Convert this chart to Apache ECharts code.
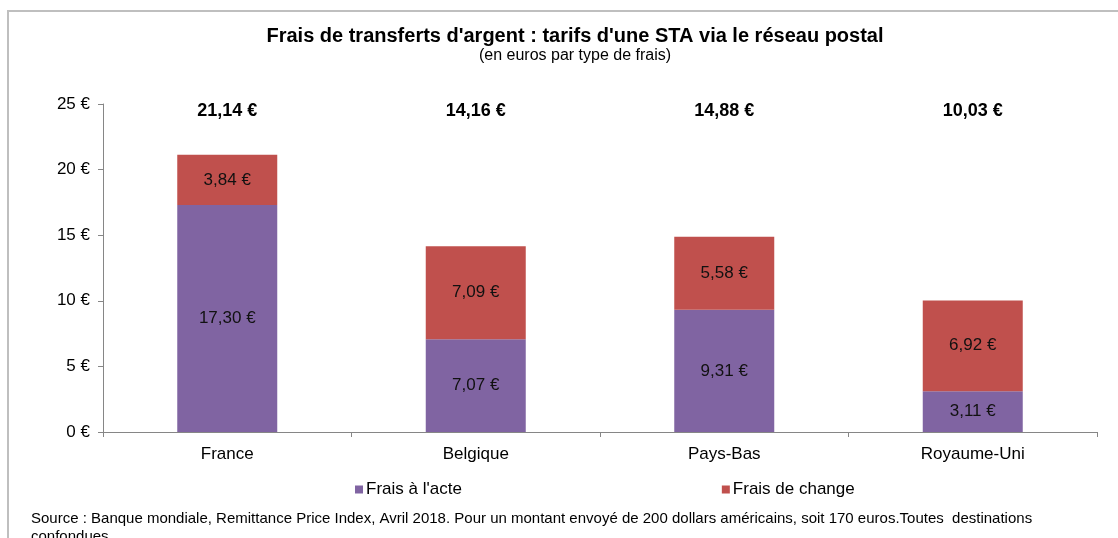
<!DOCTYPE html>
<html><head><meta charset="utf-8">
<script src="https://cdn.jsdelivr.net/npm/echarts@6/dist/echarts.min.js"></script>
<style>html,body{margin:0;padding:0;background:#fff}#c{width:1118px;height:538px}</style>
</head><body><div id="c"></div>
<script>
const categories = ['France', 'Belgique', 'Pays-Bas', 'Royaume-Uni'];
const fraisActe = [17.30, 7.07, 9.31, 3.11];
const fraisChange = [3.84, 7.09, 5.58, 6.92];
const totals = [21.14, 14.16, 14.88, 10.03];
const yTicks = [0, 5, 10, 15, 20, 25];

const fmt = v => v.toFixed(2).replace('.', ',') + ' €';
const font = 'Liberation Sans, Arial, sans-serif';

const chart = echarts.init(document.getElementById('c'), null, {renderer: 'canvas'});
chart.setOption({
  animation: false,
  textStyle: {fontFamily: font},
  title: {
    text: "Frais de transferts d'argent : tarifs d'une STA via le réseau postal",
    subtext: '(en euros par type de frais)',
    left: 570, textAlign: 'center', top: 21, itemGap: 2,
    textStyle: {fontFamily: font, fontSize: 20, fontWeight: 'bold', color: '#000'},
    subtextStyle: {fontFamily: font, fontSize: 16, color: '#000'}
  },
  legend: {
    data: ['Frais à l\'acte', 'Frais de change'],
    left: 350, top: 476, itemWidth: 8, itemHeight: 8, itemGap: 260,
    icon: 'rect',
    textStyle: {fontFamily: font, fontSize: 17, color: '#000', padding: [0, 0, 0, -2]}
  },
  grid: {left: 103, right: 21, top: 104, bottom: 106},
  xAxis: [{
    type: 'category', data: categories, position: 'bottom',
    axisLine: {lineStyle: {color: '#868686', width: 1}},
    axisTick: {show: true, length: 5, lineStyle: {color: '#868686'}},
    axisLabel: {fontFamily: font, fontSize: 17, color: '#000', margin: 14}
  }, {
    type: 'category', data: totals.map(fmt), position: 'top',
    axisLine: {show: false}, axisTick: {show: false},
    axisLabel: {inside: true, fontFamily: font, fontSize: 18, fontWeight: 'bold', color: '#000', margin: -2, verticalAlign: 'top'}
  }],
  yAxis: {
    type: 'value', min: 0, max: 25, interval: 5,
    axisLine: {show: true, lineStyle: {color: '#868686'}},
    axisTick: {show: true, length: 5, lineStyle: {color: '#868686'}},
    splitLine: {show: false},
    axisLabel: {fontFamily: font, fontSize: 17, color: '#000', margin: 13, formatter: v => v + ' €'}
  },
  series: [{
    name: 'Frais à l\'acte', type: 'bar', stack: 't', data: fraisActe, barWidth: 100,
    itemStyle: {color: '#8064A2'},
    label: {show: true, position: 'inside', fontFamily: font, fontSize: 17, color: '#111', formatter: p => fmt(p.value)}
  }, {
    name: 'Frais de change', type: 'bar', stack: 't', data: fraisChange, barWidth: 100,
    itemStyle: {color: '#C0504D'},
    label: {show: true, position: 'inside', fontFamily: font, fontSize: 17, color: '#111', formatter: p => fmt(p.value)}
  }],
  graphic: [{
    type: 'polyline', shape: {points: [[8, 538], [8, 11], [1118, 11]]},
    style: {stroke: '#BFBFBF', lineWidth: 2, fill: null}
  }, {
    type: 'text', left: 31, top: 510,
    style: {
      text: 'Source : Banque mondiale, Remittance Price Index, Avril 2018. Pour un montant envoyé de 200 dollars américains, soit 170 euros.Toutes  destinations\nconfondues',
      fontFamily: font, fontSize: 15, fill: '#000', lineHeight: 18
    }
  }]
});
</script></body></html>
